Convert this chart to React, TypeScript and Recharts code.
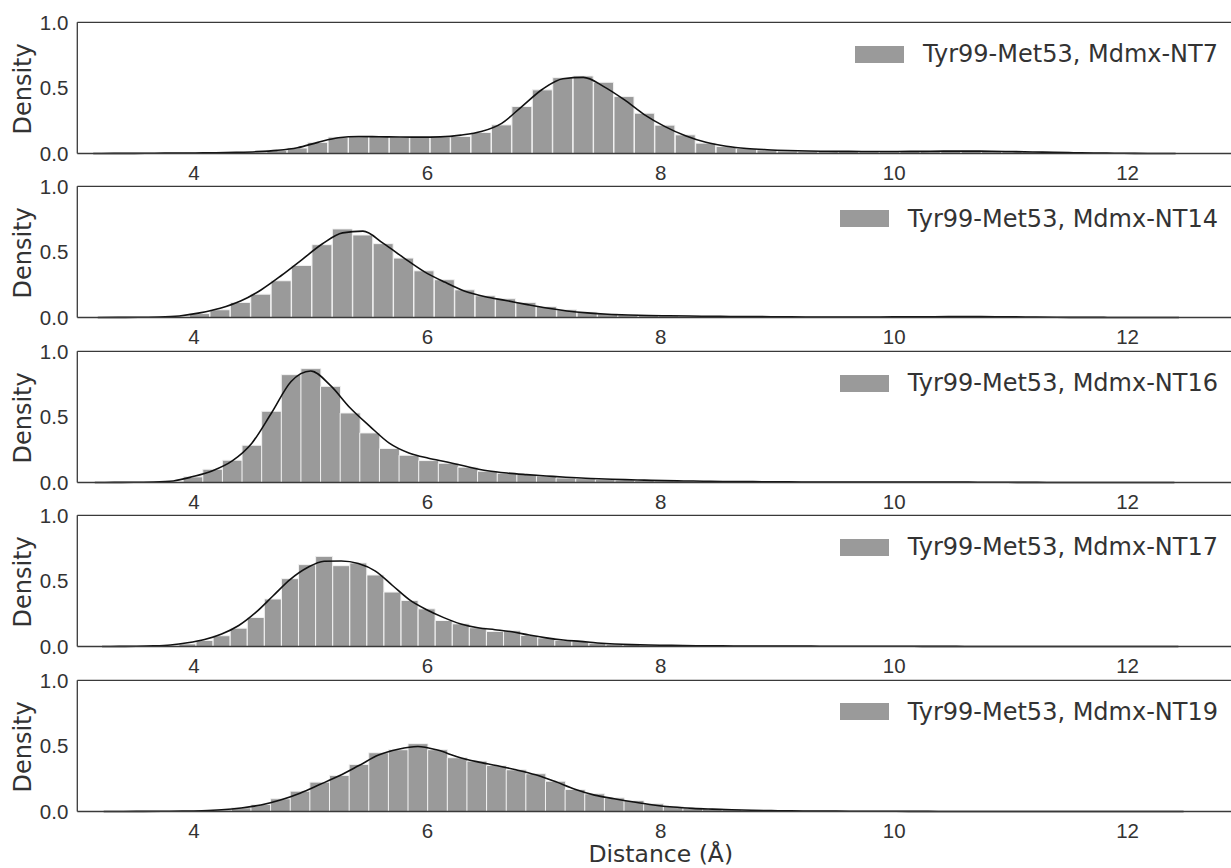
import { Bar, ComposedChart, Label, Legend, Line, ReferenceLine, XAxis, YAxis } from "recharts"

const xTicks = [4, 6, 8, 10, 12]
const yTicks = [0, 0.5, 1]

// histogram bins: left edge of first bin + bin width (Å), density per bin, kde at bin centre
const nt7Start = 3.049
const nt7Width = 0.175
const nt7Hist = [
  0, 0, 0, 0, 0, 0.003, 0.005, 0.008, 0.01, 0.025, 0.042, 0.085, 0.125, 0.13, 0.13, 0.125, 0.125, 0.125,
  0.13, 0.16, 0.218, 0.358, 0.485, 0.578, 0.591, 0.543, 0.434, 0.307, 0.216, 0.142, 0.079, 0.053, 0.038,
  0.028, 0.02, 0.018, 0.016, 0.015, 0.014, 0.014, 0.015, 0.016, 0.018, 0.018, 0.016, 0.014, 0.012, 0.009,
  0.006, 0.003, 0, 0, 0, 0,
]
const nt7Kde = [
  0, 0.001, 0.001, 0.002, 0.003, 0.004, 0.006, 0.009, 0.014, 0.024, 0.044, 0.085, 0.12, 0.13, 0.128, 0.126,
  0.125, 0.127, 0.14, 0.167, 0.23, 0.36, 0.49, 0.57, 0.58, 0.51, 0.41, 0.295, 0.205, 0.135, 0.085, 0.055,
  0.038, 0.029, 0.023, 0.019, 0.017, 0.016, 0.015, 0.015, 0.016, 0.017, 0.018, 0.018, 0.017, 0.015, 0.012,
  0.009, 0.006, 0.004, 0.002, 0.001, 0, 0,
]

const nt14Start = 3.088
const nt14Width = 0.1748
const nt14Hist = [
  0, 0, 0, 0, 0.005, 0.03, 0.059, 0.115, 0.178, 0.28, 0.397, 0.555, 0.675, 0.629, 0.563, 0.453, 0.356, 0.288,
  0.211, 0.166, 0.143, 0.115, 0.084, 0.059, 0.041, 0.028, 0.02, 0.015, 0.013, 0.01, 0.008, 0.006, 0.005,
  0.004, 0.004, 0.003, 0.003, 0.003, 0.003, 0.003, 0.004, 0.005, 0.005, 0.006, 0.005, 0.004, 0.003, 0, 0, 0,
  0, 0, 0, 0,
]
const nt14Kde = [
  0, 0.001, 0.002, 0.004, 0.012, 0.035, 0.07, 0.125, 0.21, 0.32, 0.44, 0.56, 0.645, 0.658, 0.565, 0.455, 0.35,
  0.27, 0.2, 0.158, 0.13, 0.1, 0.072, 0.05, 0.035, 0.025, 0.019, 0.015, 0.013, 0.011, 0.009, 0.008, 0.007,
  0.006, 0.005, 0.004, 0.004, 0.004, 0.004, 0.005, 0.005, 0.006, 0.007, 0.007, 0.006, 0.005, 0.003, 0.002,
  0.001, 0.001, 0, 0, 0, 0,
]

const nt16Start = 3.066
const nt16Width = 0.1682
const nt16Hist = [
  0, 0, 0, 0, 0.008, 0.043, 0.101, 0.17, 0.284, 0.543, 0.822, 0.868, 0.733, 0.53, 0.378, 0.259, 0.208, 0.167,
  0.147, 0.117, 0.086, 0.071, 0.061, 0.05, 0.035, 0.03, 0.025, 0.02, 0.015, 0.012, 0.01, 0.009, 0.007, 0.005,
  0.004, 0.003, 0.003, 0.003, 0.002, 0.002, 0.002, 0.002, 0.002, 0.002, 0.002, 0.002, 0.001, 0, 0, 0, 0, 0,
  0, 0, 0, 0,
]
const nt16Kde = [
  0, 0.001, 0.002, 0.004, 0.012, 0.045, 0.09, 0.165, 0.3, 0.53, 0.77, 0.85, 0.74, 0.57, 0.43, 0.3, 0.225,
  0.185, 0.155, 0.12, 0.09, 0.072, 0.06, 0.05, 0.04, 0.032, 0.027, 0.022, 0.018, 0.014, 0.012, 0.01, 0.008,
  0.007, 0.006, 0.005, 0.004, 0.004, 0.004, 0.003, 0.003, 0.003, 0.003, 0.003, 0.003, 0.002, 0.002, 0.001,
  0.001, 0, 0, 0, 0, 0, 0, 0,
]

const nt17Start = 3.139
const nt17Width = 0.1464
const nt17Hist = [
  0, 0, 0, 0.003, 0.008, 0.02, 0.046, 0.082, 0.14, 0.221, 0.362, 0.517, 0.624, 0.687, 0.616, 0.637, 0.545,
  0.415, 0.351, 0.287, 0.198, 0.173, 0.143, 0.115, 0.12, 0.084, 0.066, 0.046, 0.041, 0.026, 0.018, 0.015,
  0.011, 0.009, 0.007, 0.006, 0.005, 0.004, 0.003, 0.003, 0.003, 0.002, 0.002, 0.002, 0.002, 0.002, 0.002,
  0.002, 0.001, 0, 0, 0, 0, 0, 0, 0, 0, 0, 0, 0, 0, 0, 0, 0,
]
const nt17Kde = [
  0, 0.001, 0.002, 0.005, 0.012, 0.028, 0.053, 0.095, 0.16, 0.26, 0.385, 0.51, 0.6, 0.65, 0.652, 0.633,
  0.575, 0.465, 0.355, 0.28, 0.22, 0.172, 0.143, 0.128, 0.112, 0.087, 0.066, 0.05, 0.039, 0.027, 0.019,
  0.014, 0.011, 0.009, 0.007, 0.006, 0.005, 0.004, 0.004, 0.003, 0.003, 0.003, 0.002, 0.002, 0.002, 0.002,
  0.002, 0.002, 0.001, 0.001, 0.001, 0, 0, 0, 0, 0, 0, 0, 0, 0, 0, 0, 0, 0,
]

const nt19Start = 3.142
const nt19Width = 0.16825
const nt19Hist = [
  0, 0, 0, 0, 0, 0.004, 0.012, 0.028, 0.053, 0.097, 0.155, 0.224, 0.275, 0.359, 0.448, 0.471, 0.517, 0.471,
  0.41, 0.384, 0.351, 0.318, 0.288, 0.231, 0.168, 0.135, 0.104, 0.084, 0.059, 0.04, 0.028, 0.02, 0.015, 0.01,
  0.007, 0.005, 0.004, 0.003, 0.002, 0.002, 0.002, 0.001, 0, 0, 0, 0, 0, 0, 0, 0, 0, 0, 0, 0, 0, 0,
]
const nt19Kde = [
  0, 0, 0.001, 0.002, 0.003, 0.006, 0.013, 0.027, 0.05, 0.088, 0.14, 0.205, 0.272, 0.35, 0.43, 0.475, 0.496,
  0.468, 0.418, 0.38, 0.35, 0.318, 0.28, 0.228, 0.17, 0.125, 0.097, 0.072, 0.05, 0.034, 0.024, 0.018, 0.013,
  0.009, 0.007, 0.005, 0.004, 0.003, 0.002, 0.002, 0.002, 0.001, 0.001, 0, 0, 0, 0, 0, 0, 0, 0, 0, 0, 0, 0, 0,
]

const panels = [
  { name: "Tyr99-Met53, Mdmx-NT7", start: nt7Start, width: nt7Width, hist: nt7Hist, kde: nt7Kde },
  { name: "Tyr99-Met53, Mdmx-NT14", start: nt14Start, width: nt14Width, hist: nt14Hist, kde: nt14Kde },
  { name: "Tyr99-Met53, Mdmx-NT16", start: nt16Start, width: nt16Width, hist: nt16Hist, kde: nt16Kde },
  { name: "Tyr99-Met53, Mdmx-NT17", start: nt17Start, width: nt17Width, hist: nt17Hist, kde: nt17Kde },
  { name: "Tyr99-Met53, Mdmx-NT19", start: nt19Start, width: nt19Width, hist: nt19Hist, kde: nt19Kde },
]

const spine = "#3a3a3a"
const textColor = "#333333"
const barColor = "#9a9a9a"

function Panel({ panel, index, last }: { panel: (typeof panels)[number]; index: number; last: boolean }) {
  const data = panel.kde.map((k, i) => ({
    x: +(panel.start + panel.width * (i + 0.5)).toFixed(4),
    hist: panel.hist[i] ? panel.hist[i] : null,
    kde: k,
  }))

  return (
    <div style={{ position: "absolute", left: 0, top: index * 164.4 }}>
      <ComposedChart
        width={1260}
        height={215}
        data={data}
        margin={{ top: 22.3, right: 15.7, bottom: 31.5, left: 17.3 }}
        barCategoryGap={0}
        barGap={0}
      >
        <XAxis
          dataKey="x"
          type="number"
          domain={[3, 13]}
          ticks={xTicks}
          interval={0}
          allowDataOverflow
          height={30}
          tickLine={false}
          tickSize={0}
          tickMargin={12}
          axisLine={{ stroke: spine, strokeWidth: 1.3 }}
          tick={{ fontFamily: "Liberation Sans", fontSize: 20.5, fill: textColor }}
        >
          {last && (
            <Label
              content={({ viewBox }: any) => (
                <text
                  x={viewBox.x + viewBox.width / 2}
                  y={viewBox.y + 50.5}
                  textAnchor="middle"
                  fontFamily="DejaVu Sans"
                  fontSize={23.5}
                  fill={textColor}
                >
                  Distance (Å)
                </text>
              )}
            />
          )}
        </XAxis>
        <YAxis
          type="number"
          domain={[0, 1]}
          ticks={yTicks}
          interval={0}
          width={60}
          tickLine={false}
          tickSize={0}
          tickMargin={9}
          tickFormatter={(v: number) => v.toFixed(1)}
          axisLine={{ stroke: spine, strokeWidth: 1.3 }}
          tick={{ fontFamily: "Liberation Sans", fontSize: 20.5, fill: textColor }}
        >
          <Label
            content={({ viewBox }: any) => {
              const cx = 31.5
              const cy = viewBox.y + viewBox.height / 2 + 1
              return (
                <text
                  x={cx}
                  y={cy}
                  transform={`rotate(-90, ${cx}, ${cy})`}
                  textAnchor="middle"
                  fontFamily="DejaVu Sans"
                  fontSize={24}
                  fill={textColor}
                >
                  Density
                </text>
              )
            }}
          />
        </YAxis>
        <ReferenceLine y={1} stroke={spine} strokeWidth={1.3} />
        <Bar dataKey="hist" fill={barColor} stroke="#f2f2f2" strokeWidth={1} isAnimationActive={false} />
        <Line
          dataKey="kde"
          type="monotone"
          stroke="#111111"
          strokeWidth={1.6}
          dot={false}
          activeDot={false}
          isAnimationActive={false}
        />
        <Legend
          verticalAlign="middle"
          align="center"
          wrapperStyle={{ left: 0, top: 40.3, width: 1218 }}
          content={() => (
            <div
              style={{
                display: "flex",
                justifyContent: "flex-end",
                alignItems: "center",
                height: 28,
                fontFamily: "DejaVu Sans",
                fontSize: 24,
                color: textColor,
                whiteSpace: "nowrap",
              }}
            >
              <span style={{ display: "inline-block", width: 49, height: 17, background: barColor, marginRight: 19 }} />
              <span>{panel.name}</span>
            </div>
          )}
        />
      </ComposedChart>
    </div>
  )
}

export default function App() {
  return (
    <div
      style={{
        position: "absolute",
        left: 0,
        top: 0,
        width: 1231,
        height: 868,
        overflow: "hidden",
        background: "#ffffff",
      }}
    >
      {panels.map((p, i) => (
        <Panel key={p.name} panel={p} index={i} last={i === panels.length - 1} />
      ))}
    </div>
  )
}
